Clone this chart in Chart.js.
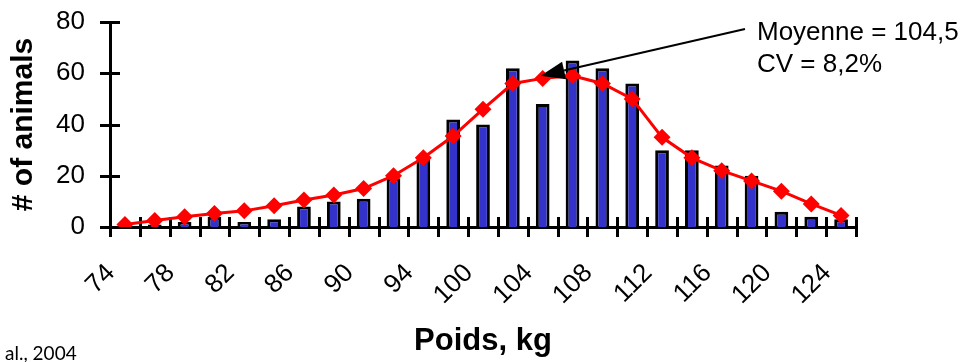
<!DOCTYPE html>
<html>
<head>
<meta charset="utf-8">
<script src="https://cdn.jsdelivr.net/npm/chart.js@4/dist/chart.umd.min.js"></script>
<style>
  html, body { margin: 0; padding: 0; background: #fff; }
  #weightChart { display: block; }
</style>
</head>
<body>
<canvas id="weightChart" width="966" height="362"></canvas>
<script>
// --- Data ---
const weights = ['74', '76', '78', '80', '82', '84', '86', '88', '90', '92', '94', '97',
                 '100', '102', '104', '106', '108', '110', '112', '114', '116', '118', '120', '122', '124'];
const animalCounts = [0, 1, 2, 4, 2, 3, 8, 10, 11, 19, 27, 42, 40, 62, 48, 65, 62, 56, 30, 30, 24, 20, 6, 4, 3];
const normalFit = [1, 2.5, 4, 5.3, 6.3, 8.3, 10.5, 12.5, 15, 20, 27, 35.5, 46, 56, 58, 59, 56, 50, 35, 27, 22, 18, 14, 9, 4.5];
const yTicks = [0, 20, 40, 60, 80];
const noteLines = ['Moyenne = 104,5', 'CV = 8,2%'];
const sourceNote = 'al., 2004';

const FONT = "'Liberation Sans', Arial, sans-serif";

// crossing tick marks on both axes (Excel style)
const crossTicks = {
    id: 'crossTicks',
    beforeDatasetsDraw(chart) {
        const { ctx, scales: { x, y } } = chart;
        ctx.save();
        ctx.strokeStyle = '#000';
        ctx.lineWidth = 3;
        ctx.beginPath();
        yTicks.forEach(v => {
            const py = Math.round(y.getPixelForValue(v)) + 0.5;
            ctx.moveTo(x.left - 10, py);
            ctx.lineTo(x.left + 10, py);
        });
        const step = (x.right - x.left) / weights.length;
        for (let i = 0; i <= weights.length; i++) {
            const px = Math.round(x.left + i * step) + 0.5;
            ctx.moveTo(px, y.bottom - 10);
            ctx.lineTo(px, y.bottom + 10);
        }
        ctx.stroke();
        ctx.restore();
    }
};

// "Moyenne" note with arrow pointing to the peak of the curve
const meanNote = {
    id: 'meanNote',
    afterDatasetsDraw(chart) {
        const { ctx, chartArea, scales: { x, y } } = chart;
        const tipX = x.getPixelForValue(14) - 2;
        const tipY = y.getPixelForValue(59);
        const textX = chartArea.right - 99;
        const startX = textX - 12, startY = chartArea.top + 7;

        ctx.save();
        ctx.strokeStyle = '#000';
        ctx.fillStyle = '#000';
        ctx.lineWidth = 2;
        const ang = Math.atan2(tipY - startY, tipX - startX);
        const headLen = 24, headHalf = 9;
        const baseX = tipX - headLen * Math.cos(ang);
        const baseY = tipY - headLen * Math.sin(ang);
        ctx.beginPath();
        ctx.moveTo(startX, startY);
        ctx.lineTo(baseX, baseY);
        ctx.stroke();
        ctx.beginPath();
        ctx.moveTo(tipX, tipY);
        ctx.lineTo(baseX + headHalf * Math.sin(ang), baseY - headHalf * Math.cos(ang));
        ctx.lineTo(baseX - headHalf * Math.sin(ang), baseY + headHalf * Math.cos(ang));
        ctx.closePath();
        ctx.fill();

        ctx.font = '26px ' + FONT;
        ctx.textAlign = 'left';
        ctx.textBaseline = 'alphabetic';
        noteLines.forEach((line, i) => {
            ctx.fillText(line, textX, chartArea.top + 18 + i * 32);
        });

        ctx.font = "19px Lato, 'Open Sans', sans-serif";
        ctx.fillText(sourceNote, 5, chart.height - 2);
        ctx.restore();
    }
};

new Chart(document.getElementById('weightChart'), {
    type: 'bar',
    data: {
        labels: weights,
        datasets: [{
            type: 'line',
            label: 'Courbe',
            data: normalFit,
            order: 0,
            borderColor: '#ff0000',
            borderWidth: 3,
            backgroundColor: '#ff0000',
            pointStyle: 'rectRot',
            pointRadius: 8.5,
            pointBorderWidth: 0,
            tension: 0
        }, {
            label: '# of animals',
            data: animalCounts,
            order: 1,
            backgroundColor: '#3333cc',
            borderColor: '#000',
            borderWidth: 3,
            categoryPercentage: 1,
            barPercentage: 0.46
        }]
    },
    options: {
        responsive: false,
        animation: false,
        layout: { padding: { left: 0, right: 110, top: 22, bottom: 0 } },
        plugins: {
            legend: { display: false },
            tooltip: { enabled: false }
        },
        scales: {
            x: {
                grid: { display: false, drawTicks: false },
                border: { display: true, color: '#000', width: 3 },
                ticks: {
                    autoSkip: false,
                    minRotation: 45,
                    maxRotation: 45,
                    padding: 31,
                    labelOffset: -14,
                    color: '#000',
                    font: { family: FONT, size: 26 },
                    callback: (v, i) => (i % 2 === 0 ? weights[i] : '')
                },
                title: {
                    display: true,
                    text: 'Poids, kg',
                    color: '#000',
                    font: { family: FONT, size: 31, weight: 'bold' },
                    padding: { top: 0, bottom: 2 }
                },
                afterFit(scale) {
                    scale.height = 135;
                    scale.paddingLeft = 0;
                    scale.paddingRight = 0;
                }
            },
            y: {
                min: 0,
                max: 80,
                grid: { display: false, drawTicks: false },
                border: { display: true, color: '#000', width: 3 },
                afterBuildTicks(scale) { scale.ticks = yTicks.map(v => ({ value: v })); },
                ticks: {
                    padding: 25,
                    color: '#000',
                    font: { family: FONT, size: 26 }
                },
                title: {
                    display: true,
                    text: '# of animals',
                    color: '#000',
                    font: { family: FONT, size: 30, weight: 'bold' },
                    padding: { top: 6, bottom: 0 }
                },
                afterFit(scale) {
                    scale.width = 110;
                    scale.paddingTop = 0;
                    scale.paddingBottom = 0;
                }
            }
        }
    },
    plugins: [crossTicks, meanNote]
});
</script>
</body>
</html>
